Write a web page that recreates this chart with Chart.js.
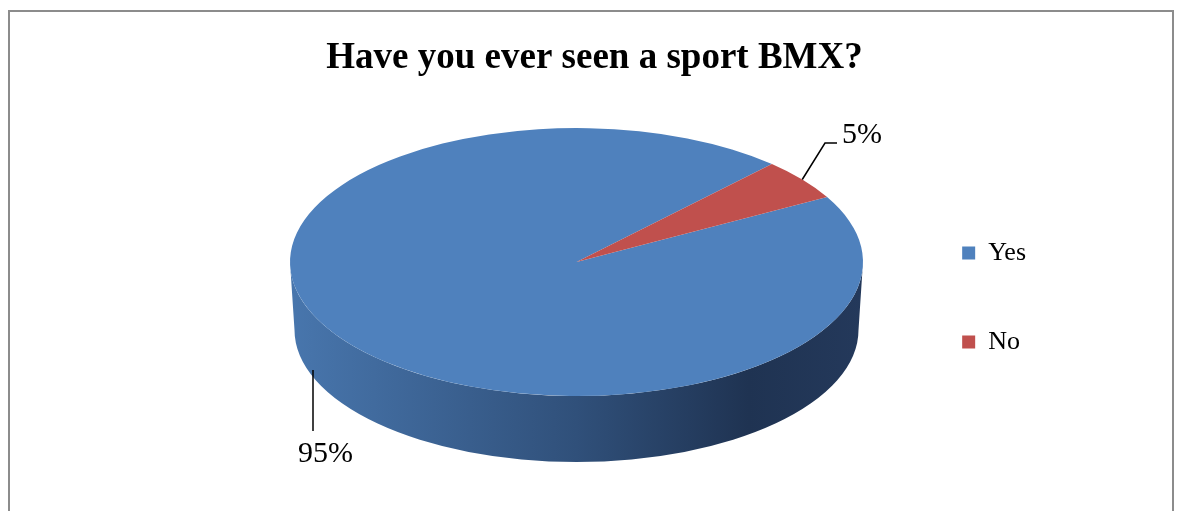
<!DOCTYPE html>
<html>
<head>
<meta charset="utf-8">
<title>Have you ever seen a sport BMX?</title>
<script src="https://cdn.jsdelivr.net/npm/chart.js@4.4.1/dist/chart.umd.min.js"></script>
<style>
  html, body { margin: 0; padding: 0; background: #ffffff; }
  #wrap { position: relative; width: 1179px; height: 511px; overflow: hidden; }
  canvas { display: block; }
</style>
</head>
<body>
<div id="wrap"><canvas id="chart" width="1179" height="511"></canvas></div>
<script>
// Survey answers and their shares (percent)
const categories = ['Yes', 'No'];
const shares = [95, 5];
const sliceColors = ['#4F81BD', '#C0504D'];
const chartTitle = 'Have you ever seen a sport BMX?';

// Geometry of the tilted pie (top face ellipse, bottom rim ellipse)
const TOP = { cx: 576.5, cy: 262, rx: 286.5, ry: 134 };
const BOTTOM = { cx: 576.5, cy: 330, rx: 282, ry: 132 };
const SERIF = "'Liberation Serif', 'Times New Roman', serif";

// Shading used on the visible side wall of each slice
const sideShades = {
  '#4F81BD': [[0, '#4876ad'], [0.5, '#30507a'], [0.8, '#1f3352'], [1, '#24395b']],
  '#C0504D': [[0, '#b04a47'], [0.5, '#8a3836'], [0.8, '#6a2a29'], [1, '#702d2c']]
};

// Label leader placement
const labelLayout = [
  { start: [313, 370], path: [[313, 431]], text: [298, 462] },
  { start: null, path: [[825, 143], [837, 143]], text: [842, 143] }
];

function rimPoint(e, a) {
  return [e.cx + e.rx * Math.cos(a), e.cy + e.ry * Math.sin(a)];
}

const pie3d = {
  id: 'pie3d',
  beforeDraw(chart) {
    const ctx = chart.ctx;
    ctx.save();
    ctx.fillStyle = '#ffffff';
    ctx.fillRect(0, 0, chart.width, chart.height);
    ctx.strokeStyle = '#8c8c8c';
    ctx.lineWidth = 2;
    ctx.strokeRect(9, 11, 1164, 540);
    ctx.restore();
  },
  beforeDatasetsDraw(chart) {
    const ctx = chart.ctx;
    const arcs = chart.getDatasetMeta(0).data;
    // side walls: only the front half (0..PI) of each slice is visible
    arcs.forEach((arc, i) => {
      const s = arc.startAngle, e = arc.endAngle;
      for (let k = -1; k <= 1; k++) {
        const lo = Math.max(s, 2 * Math.PI * k);
        const hi = Math.min(e, 2 * Math.PI * k + Math.PI);
        if (hi <= lo) continue;
        const a = lo - 2 * Math.PI * k, b = hi - 2 * Math.PI * k;
        const g = ctx.createLinearGradient(TOP.cx - TOP.rx, 0, TOP.cx + TOP.rx, 0);
        const color = sliceColors[i];
        (sideShades[color] || sideShades['#4F81BD']).forEach(([o, c]) => g.addColorStop(o, c));
        ctx.save();
        ctx.beginPath();
        ctx.ellipse(TOP.cx, TOP.cy, TOP.rx, TOP.ry, 0, a, b, false);
        ctx.ellipse(BOTTOM.cx, BOTTOM.cy, BOTTOM.rx, BOTTOM.ry, 0, b, a, true);
        ctx.closePath();
        ctx.fillStyle = g;
        ctx.fill();
        ctx.restore();
      }
    });
    // squash the library's circular pie into the tilted top face
    const ref = arcs[0];
    const r = ref.outerRadius;
    ctx.save();
    ctx.translate(TOP.cx, TOP.cy);
    ctx.scale(TOP.rx / r, TOP.ry / r);
    ctx.translate(-ref.x, -ref.y);
  },
  afterDatasetsDraw(chart) {
    const ctx = chart.ctx;
    ctx.restore();
    const arcs = chart.getDatasetMeta(0).data;
    const values = chart.data.datasets[0].data;
    const total = values.reduce((p, v) => p + v, 0);
    ctx.save();
    ctx.strokeStyle = '#000000';
    ctx.lineWidth = 1.5;
    ctx.fillStyle = '#000000';
    ctx.font = '30px ' + SERIF;
    ctx.textAlign = 'left';
    ctx.textBaseline = 'alphabetic';
    arcs.forEach((arc, i) => {
      const lay = labelLayout[i];
      const mid = (arc.startAngle + arc.endAngle) / 2;
      const start = lay.start || rimPoint(TOP, mid);
      ctx.beginPath();
      ctx.moveTo(start[0], start[1]);
      lay.path.forEach(p => ctx.lineTo(p[0], p[1]));
      ctx.stroke();
      const pct = Math.round(values[i] / total * 100) + '%';
      ctx.fillText(pct, lay.text[0], lay.text[1]);
    });
    ctx.restore();
  }
};

new Chart(document.getElementById('chart'), {
  type: 'pie',
  data: {
    labels: categories,
    datasets: [{
      data: shares,
      backgroundColor: sliceColors,
      borderWidth: 0,
      clip: false
    }]
  },
  options: {
    responsive: false,
    animation: false,
    events: [],
    rotation: 61,
    layout: { padding: { left: 153, right: 143, top: 0, bottom: 0 } },
    plugins: {
      title: {
        display: true,
        text: chartTitle,
        color: '#000000',
        font: { family: SERIF, size: 37, weight: 'bold' },
        padding: { top: 36, bottom: 10 }
      },
      legend: {
        display: true,
        position: 'right',
        align: 'center',
        title: {
          display: true,
          text: ' ',
          font: { size: 10 },
          padding: { top: 72, bottom: 0 }
        },
        labels: {
          color: '#000000',
          font: { family: SERIF, size: 26 },
          boxWidth: 13,
          boxHeight: 13,
          padding: 63
        }
      },
      tooltip: { enabled: false }
    }
  },
  plugins: [pie3d]
});
</script>
</body>
</html>
